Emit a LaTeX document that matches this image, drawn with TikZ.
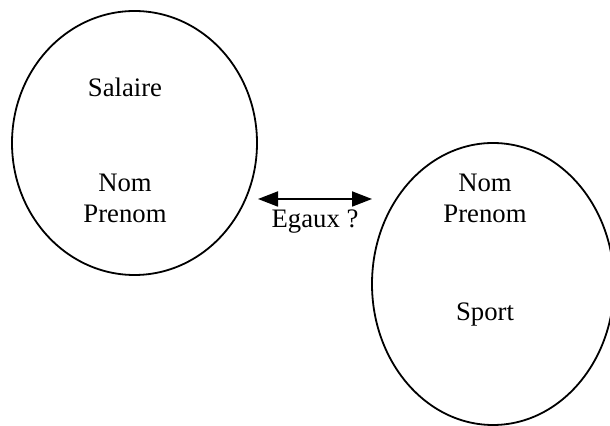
\documentclass[tikz,border=0pt]{standalone}
\usepackage{fontspec}
\setmainfont{Liberation Serif}
\usetikzlibrary{shapes.geometric,arrows.meta}
\begin{document}
\begin{tikzpicture}[x=0.5pt,y=-0.5pt,
  oval/.style={draw,ellipse,line width=0.9pt,inner sep=0pt},
  lbl/.style={align=center,inner sep=0pt,font=\fontsize{13.35}{15.5}\selectfont},
  dbl/.style={line width=0.9pt,{Triangle[length=10pt,width=7.5pt]}-{Triangle[length=10pt,width=7.5pt]}}]
\useasboundingbox (0,0) rectangle (610,426);
\node[oval,minimum width=122.5pt,minimum height=132pt] (L) at (134.5,143) {};
\node[oval,minimum width=121pt,minimum height=141pt] (R) at (493,284) {};
\node[lbl] (sal) at (125,87) {Salaire};
\node[lbl] (lnp) at (125,198) {Nom\\Prenom};
\node[lbl] (rnp) at (485,198) {Nom\\Prenom};
\node[lbl] (spo) at (485,315) {Sport};
\coordinate (a1) at (258,199);
\coordinate (a2) at (372,199);
\draw[dbl] (a1) -- (a2);
\node[lbl] (eg) at (315,222) {Egaux ?};
\end{tikzpicture}
\end{document}
